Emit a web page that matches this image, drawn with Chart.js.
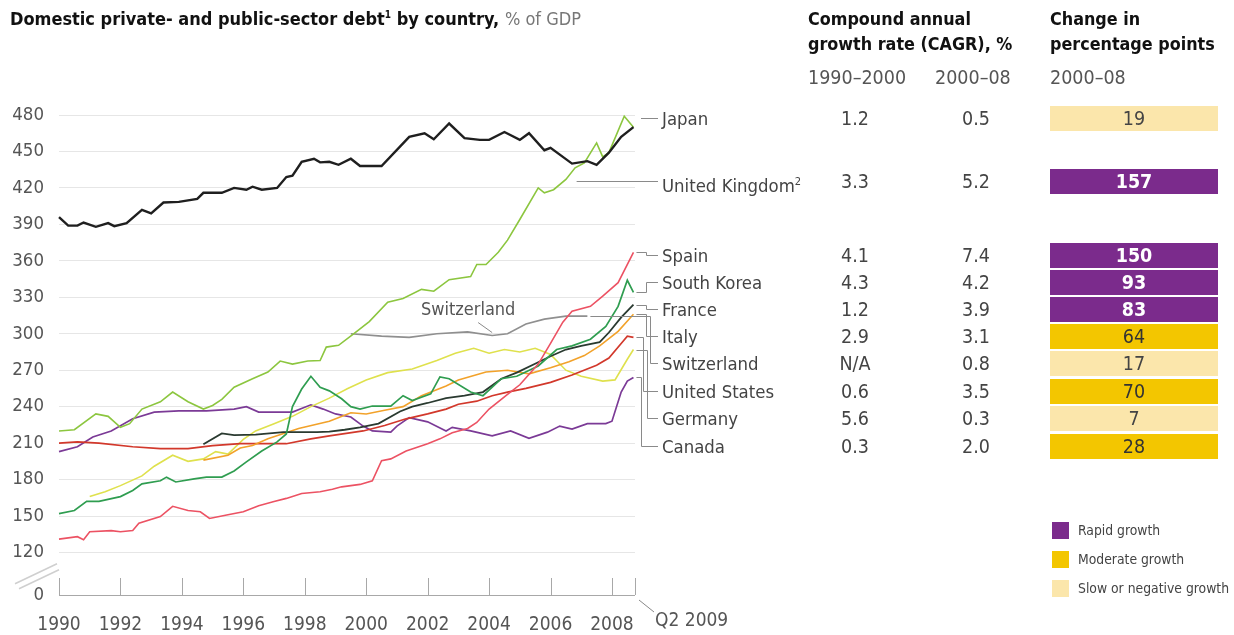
<!DOCTYPE html>
<html lang="en">
<head>
<meta charset="UTF-8">
<title>Domestic private- and public-sector debt by country</title>
<script src="https://cdn.jsdelivr.net/npm/chart.js"></script>
<style>
  body { margin: 0; background: #fff; font-family: 'DejaVu Sans Condensed', 'Liberation Sans', sans-serif; color: #333; }
  #wrap { position: relative; width: 1234px; height: 635px; overflow: hidden; }
  #debtChart { position: absolute; left: 0; top: 0; }
  .title { position: absolute; left: 10px; top: 8px; font-size: 18px; font-weight: bold; color: #111; white-space: nowrap; }
  .title span { font-weight: normal; color: #777; }
  .title sup { font-size: 10px; }
  .head { position: absolute; top: 6px; font-size: 17.8px; font-weight: bold; line-height: 25px; color: #111; white-space: nowrap; }
  .sub { position: absolute; top: 66px; font-size: 19.5px; color: #555; white-space: nowrap; }
  .cell { position: absolute; height: 25px; line-height: 25px; font-size: 19px; color: #444; white-space: nowrap; }
  .label { font-size: 18.4px; }
  .num { width: 80px; text-align: center; font-size: 19.5px; }
  .box { width: 168px; text-align: center; font-size: 19.5px; }
  .rapid { background: #7b2b8c; color: #fff; font-weight: bold; }
  .moderate { background: #f3c600; color: #333; }
  .slow { background: #fbe6ab; color: #444; }
  .key { position: absolute; left: 1052px; width: 17px; height: 17px; }
  .keytext { position: absolute; left: 1078px; font-size: 13.8px; color: #444; white-space: nowrap; line-height: 17px; }
</style>
</head>
<body>
<div id="wrap">
  <canvas id="debtChart" width="1234" height="635"></canvas>
  <div class="title">Domestic private- and public-sector debt<sup>1</sup> by country, <span>% of GDP</span></div>
  <div class="head" style="left:808px">Compound annual<br>growth rate (CAGR), %</div>
  <div class="head" style="left:1050px">Change in<br>percentage points</div>
  <div class="sub" style="left:808px">1990–2000</div>
  <div class="sub" style="left:935px">2000–08</div>
  <div class="sub" style="left:1050px">2000–08</div>
  <div id="rows"></div>
</div>
<script>
  // --- data: [year, % of GDP] ---
  const japanDebt = [[1990,396],[1990.3,389],[1990.6,389],[1990.8,391.5],[1991.2,388],[1991.6,391],[1991.8,388.5],[1992.2,391],[1992.7,402],[1993.0,399],[1993.4,408],[1993.9,408.5],[1994.5,411],[1994.7,416],[1995.3,416],[1995.7,420],[1996.1,418.5],[1996.3,421],[1996.6,418.5],[1997.1,420],[1997.4,429],[1997.6,430],[1997.9,441.5],[1998.3,444],[1998.5,441],[1998.8,441.5],[1999.1,439],[1999.5,444],[1999.8,438],[2000.5,438],[2001.4,462],[2001.9,465],[2002.2,460],[2002.7,473],[2003.2,461],[2003.7,459.5],[2004.0,459.5],[2004.5,466],[2005.0,459.5],[2005.3,465],[2005.8,451],[2006.0,453],[2006.7,440],[2007.2,442],[2007.5,439],[2007.9,449],[2008.3,462],[2008.7,470]];
  const ukDebt = [[1990,220],[1990.5,221],[1991.2,234],[1991.6,232],[1992.0,223],[1992.3,226],[1992.7,238],[1993.3,244],[1993.7,252],[1994.2,244],[1994.7,238],[1995.0,241],[1995.3,246],[1995.7,256],[1996.3,263],[1996.8,268.5],[1997.2,277.5],[1997.6,275],[1998.1,277.5],[1998.5,278],[1998.7,289],[1999.1,290.5],[1999.6,300],[2000.1,310],[2000.7,326],[2001.2,329],[2001.8,336.5],[2002.2,335],[2002.7,344.5],[2003.4,347],[2003.6,357],[2003.9,357],[2004.3,367],[2004.6,377],[2005.0,394],[2005.6,420],[2005.8,416],[2006.1,418.5],[2006.5,427],[2006.8,436.5],[2007.1,440.5],[2007.5,457],[2007.7,445.5],[2007.9,449],[2008.4,479],[2008.7,470]];
  const spainDebt = [[1990,131],[1990.6,133],[1990.8,130.5],[1991.0,137],[1991.7,138],[1992.0,137],[1992.4,138],[1992.6,144],[1993.3,149.5],[1993.7,158],[1994.2,154.5],[1994.6,153.5],[1994.9,148],[1995.5,151],[1996.0,153.5],[1996.5,158.5],[1997.0,162],[1997.4,164.5],[1997.9,168.5],[1998.5,170],[1998.9,172],[1999.2,174],[1999.8,176],[2000.2,179],[2000.5,195.5],[2000.8,197],[2001.3,203.5],[2002.0,209.5],[2002.4,213.5],[2002.8,218.5],[2003.3,222],[2003.6,227],[2004.0,238],[2004.6,250],[2005.0,258],[2005.6,275],[2006.0,292],[2006.4,309.5],[2006.7,318.5],[2007.3,322.5],[2007.7,331],[2008.2,342],[2008.7,367]];
  const koreaDebt = [[1990,152],[1990.5,154.5],[1990.9,162],[1991.3,162],[1992.0,166],[1992.4,171],[1992.7,176.5],[1993.3,179],[1993.5,182],[1993.8,178],[1994.4,180.5],[1994.8,182],[1995.3,182],[1995.7,187],[1996.1,194.5],[1996.6,203.5],[1997.1,211],[1997.4,217.5],[1997.6,240],[1997.9,254.5],[1998.2,265],[1998.5,256],[1998.8,253],[1999.2,246.5],[1999.5,240],[1999.8,238],[2000.2,240.5],[2000.8,240.5],[2001.2,249],[2001.5,245],[2002.1,250.5],[2002.4,264.5],[2002.7,263],[2003.4,252],[2003.8,249],[2004.4,263],[2004.9,265],[2005.6,273.5],[2006.2,287],[2006.7,290],[2007.3,295.5],[2007.8,306],[2008.2,322.5],[2008.5,344],[2008.7,334]];
  const franceDebt = [[1994.7,209],[1995.3,218],[1995.7,216.5],[1996.4,217],[1997.3,219],[1998.4,219],[1998.8,219.5],[1999.3,221],[1999.8,223],[2000.4,226],[2001.1,236],[2001.5,240],[2002.0,243],[2002.6,247],[2003.2,249],[2003.8,252],[2004.4,263],[2004.9,268],[2005.6,276.5],[2006.0,281.5],[2006.5,287],[2007.0,290],[2007.6,293],[2007.9,301],[2008.3,313.5],[2008.7,324]];
  const italyDebt = [[1994.7,196],[1995.5,200],[1995.9,206],[1996.3,208],[1996.8,213.5],[1997.8,222],[1998.8,228],[1999.5,235],[2000.0,234],[2000.6,237],[2001.2,240],[2001.8,249],[2002.6,257],[2003.0,262],[2003.9,268.5],[2004.6,270],[2005.3,267],[2006.0,272],[2006.6,277],[2007.1,282],[2007.6,290],[2008.2,302],[2008.7,316]];
  const swissDebt = [[1999.5,300],[2000.5,298],[2001.4,297],[2002.3,300],[2003.3,301.5],[2004.1,298.5],[2004.6,300],[2005.2,308],[2005.8,312],[2006.5,314.5],[2007.2,314.5]];
  const usDebt = [[1990,210],[1990.6,211],[1991.3,210],[1992.4,207],[1993.3,205.5],[1994.2,205.5],[1995.0,208],[1995.9,209.5],[1996.8,209.5],[1997.4,209.5],[1998.2,213.5],[1998.8,216],[1999.9,220],[2000.6,224.5],[2001.3,230],[2002.0,234],[2002.6,238],[2003.0,242],[2003.6,244.5],[2004.1,249],[2004.6,252],[2005.2,255],[2006.0,260],[2006.7,266],[2007.5,274],[2007.9,280],[2008.3,292],[2008.5,298],[2008.7,297]];
  const germanyDebt = [[1991.0,166],[1991.5,170],[1992.0,175],[1992.7,183],[1993.1,191],[1993.7,200],[1994.2,195],[1994.7,197],[1995.1,203],[1995.5,201],[1996.0,213],[1996.4,220],[1997.0,226],[1997.6,232],[1998.2,240],[1998.8,247],[1999.4,255],[2000.0,262],[2000.7,268],[2001.5,271],[2002.3,278],[2002.9,284],[2003.5,288],[2004.0,284],[2004.5,287],[2005.0,285],[2005.5,288],[2006.0,283],[2006.5,270],[2007.0,265],[2007.7,261],[2008.1,262],[2008.5,279],[2008.7,287]];
  const canadaDebt = [[1990,203],[1990.6,207],[1991.1,215],[1991.7,220],[1992.4,230],[1993.1,235.5],[1993.9,236.5],[1994.8,236.5],[1995.7,238],[1996.1,240],[1996.5,235.5],[1997.6,235.5],[1998.2,241.5],[1998.6,238],[1999.0,234],[1999.5,231.5],[1999.9,224],[2000.2,220],[2000.8,219],[2001.0,224],[2001.4,231],[2002.0,227.5],[2002.6,220],[2002.8,223],[2003.4,220],[2004.1,216],[2004.7,220],[2005.3,214],[2005.9,219],[2006.3,224],[2006.7,221.5],[2007.2,226],[2007.8,226],[2008.0,228],[2008.3,252],[2008.5,261],[2008.7,264]];

  const countries = ["Japan", "United Kingdom", "Spain", "South Korea", "France", "Italy", "Switzerland", "United States", "Germany", "Canada"];
  const cagr9000 = ["1.2", "3.3", "4.1", "4.3", "1.2", "2.9", "N/A", "0.6", "5.6", "0.3"];
  const cagr0008 = ["0.5", "5.2", "7.4", "4.2", "3.9", "3.1", "0.8", "3.5", "0.3", "2.0"];
  const changePts = [19, 157, 150, 93, 83, 64, 17, 70, 7, 28];
  const growthClass = ["slow", "rapid", "rapid", "rapid", "rapid", "moderate", "slow", "moderate", "slow", "moderate"];
  const legendLabels = ["Rapid growth", "Moderate growth", "Slow or negative growth"];

  const xTickYears = [1990, 1992, 1994, 1996, 1998, 2000, 2002, 2004, 2006, 2008];
  const lastTick = { value: 2008.75, label: "Q2 2009" };
  const yTickValues = [120, 150, 180, 210, 240, 270, 300, 330, 360, 390, 420, 450, 480];
  const yBreakValue = 85; // scale value where the "0" of the broken axis sits

  const seriesList = [japanDebt, ukDebt, spainDebt, koreaDebt, franceDebt, italyDebt, swissDebt, usDebt, germanyDebt, canadaDebt];

  // --- styling / layout ---
  const lineColors = ["#1f1f1f", "#8cc63f", "#ec5263", "#2f9d50", "#2a3a30", "#f2a22a", "#8f8f8f", "#d2382b", "#dfe14d", "#7b3a96"];
  const lineWidths = [2.4, 1.6, 1.6, 1.7, 1.8, 1.6, 1.6, 1.7, 1.6, 1.7];
  const growthColors = { rapid: "#7b2b8c", moderate: "#f3c600", slow: "#fbe6ab" };
  const rowY = [118, 181, 255, 282, 309, 336, 363, 391, 418, 446];
  const labelX = 662;
  // leader type per row: "dash" short line, "from" horizontal from a year, number = bend x from series end
  const leaders = ["dash", { fromYear: 2006.85 }, 646, 646, 646, 646, 650, 643, 647, 641];
  const fontFamily = "'DejaVu Sans Condensed', 'Liberation Sans', sans-serif";

  Chart.defaults.font.family = fontFamily;
  Chart.defaults.color = "#555";

  const overlay = {
    id: "overlay",
    afterDatasetsDraw(chart) {
      const { ctx, chartArea: a, scales: { x, y } } = chart;
      ctx.save();
      // baseline and inward ticks
      ctx.strokeStyle = "#a8a8a8";
      ctx.lineWidth = 1;
      ctx.beginPath();
      ctx.moveTo(a.left, a.bottom + 0.5);
      ctx.lineTo(a.right, a.bottom + 0.5);
      [...xTickYears, lastTick.value].forEach(v => {
        const px = Math.round(x.getPixelForValue(v)) + 0.5;
        ctx.moveTo(px, a.bottom);
        ctx.lineTo(px, a.bottom - 17);
      });
      ctx.stroke();
      // axis break
      const yb = (y.getPixelForValue(120) + a.bottom) / 2 + 2;
      ctx.strokeStyle = "#cfcfcf";
      ctx.lineWidth = 1.5;
      ctx.beginPath();
      ctx.moveTo(15, yb + 8); ctx.lineTo(57, yb - 12);
      ctx.moveTo(19, yb + 13); ctx.lineTo(59, yb - 6);
      ctx.stroke();
      // Q2 2009 label with leader
      const qx = x.getPixelForValue(lastTick.value);
      ctx.strokeStyle = "#888";
      ctx.lineWidth = 1;
      ctx.beginPath();
      ctx.moveTo(qx + 4, a.bottom + 5);
      ctx.lineTo(qx + 19, a.bottom + 17);
      ctx.stroke();
      ctx.fillStyle = "#555";
      ctx.font = "19px " + fontFamily;
      ctx.textBaseline = "middle";
      ctx.fillText(lastTick.label, qx + 20, a.bottom + 26);
      // Switzerland label inside the plot
      const sp = swissDebt[5];
      const sx = x.getPixelForValue(sp[0]), sy = y.getPixelForValue(sp[1]);
      ctx.beginPath();
      ctx.moveTo(sx, sy - 3);
      ctx.lineTo(sx - 14, sy - 13);
      ctx.stroke();
      ctx.textAlign = "center";
      ctx.font = "18px " + fontFamily;
      ctx.fillText("Switzerland", sx - 24, sy - 25);
      // leader lines to the country labels
      ctx.strokeStyle = "#8a8a8a";
      ctx.beginPath();
      leaders.forEach((ld, i) => {
        const ly = Math.round(rowY[i]) + 0.5;
        const end = labelX - 4;
        if (ld === "dash") {
          ctx.moveTo(a.right + 6, ly); ctx.lineTo(end, ly);
        } else if (typeof ld === "object") {
          ctx.moveTo(x.getPixelForValue(ld.fromYear), ly); ctx.lineTo(end, ly);
        } else {
          const s = seriesList[i], p = s[s.length - 1];
          const px = x.getPixelForValue(p[0]) + 3, py = Math.round(y.getPixelForValue(p[1])) + 0.5;
          const bx = ld + 0.5;
          ctx.moveTo(px, py); ctx.lineTo(bx, py); ctx.lineTo(bx, ly); ctx.lineTo(end, ly);
        }
      });
      ctx.stroke();
      ctx.restore();
    }
  };

  new Chart(document.getElementById("debtChart"), {
    type: "line",
    data: {
      datasets: seriesList.map((s, i) => ({
        label: countries[i],
        data: s.map(p => ({ x: p[0], y: p[1] })),
        borderColor: lineColors[i],
        borderWidth: lineWidths[i],
        pointRadius: 0,
        tension: 0,
        fill: false,
        clip: false
      }))
    },
    options: {
      responsive: false,
      animation: false,
      layout: { padding: { left: 0, top: 115, right: 599, bottom: 0 } },
      plugins: { legend: { display: false }, tooltip: { enabled: false } },
      scales: {
        x: {
          type: "linear",
          min: 1990,
          max: lastTick.value,
          afterBuildTicks: s => { s.ticks = xTickYears.map(v => ({ value: v })); },
          afterFit: s => { s.height = 40; },
          ticks: { callback: v => String(v), font: { size: 19 }, color: "#555", padding: 11, maxRotation: 0, autoSkip: false },
          grid: { display: false },
          border: { display: false }
        },
        y: {
          min: yBreakValue,
          max: 480,
          afterBuildTicks: s => { s.ticks = [yBreakValue, ...yTickValues].map(v => ({ value: v })); },
          afterFit: s => { s.width = 59; },
          ticks: { callback: v => (v === yBreakValue ? "0" : String(v)), font: { size: 18.5 }, color: "#555", padding: 15 },
          grid: { color: c => (c.tick && c.tick.value === yBreakValue ? "rgba(0,0,0,0)" : "#e6e6e6"), drawTicks: false },
          border: { display: false }
        }
      }
    },
    plugins: [overlay]
  });

  // table on the right
  const rows = document.getElementById("rows");
  countries.forEach((name, i) => {
    const top = rowY[i] - 12.5;
    const label = name === "United Kingdom" ? "United Kingdom<sup style='font-size:11px'>2</sup>" : name;
    rows.insertAdjacentHTML("beforeend",
      `<div class="cell label" style="left:${labelX}px;top:${top}px">${label}</div>` +
      `<div class="cell num" style="left:815px;top:${top}px">${cagr9000[i]}</div>` +
      `<div class="cell num" style="left:936px;top:${top}px">${cagr0008[i]}</div>` +
      `<div class="cell box ${growthClass[i]}" style="left:1050px;top:${top}px">${changePts[i]}</div>`);
  });
  ["rapid", "moderate", "slow"].forEach((g, i) => {
    const top = 522 + i * 29;
    rows.insertAdjacentHTML("beforeend",
      `<div class="key" style="top:${top}px;background:${growthColors[g]}"></div>` +
      `<div class="keytext" style="top:${top}px">${legendLabels[i]}</div>`);
  });
</script>
</body>
</html>
